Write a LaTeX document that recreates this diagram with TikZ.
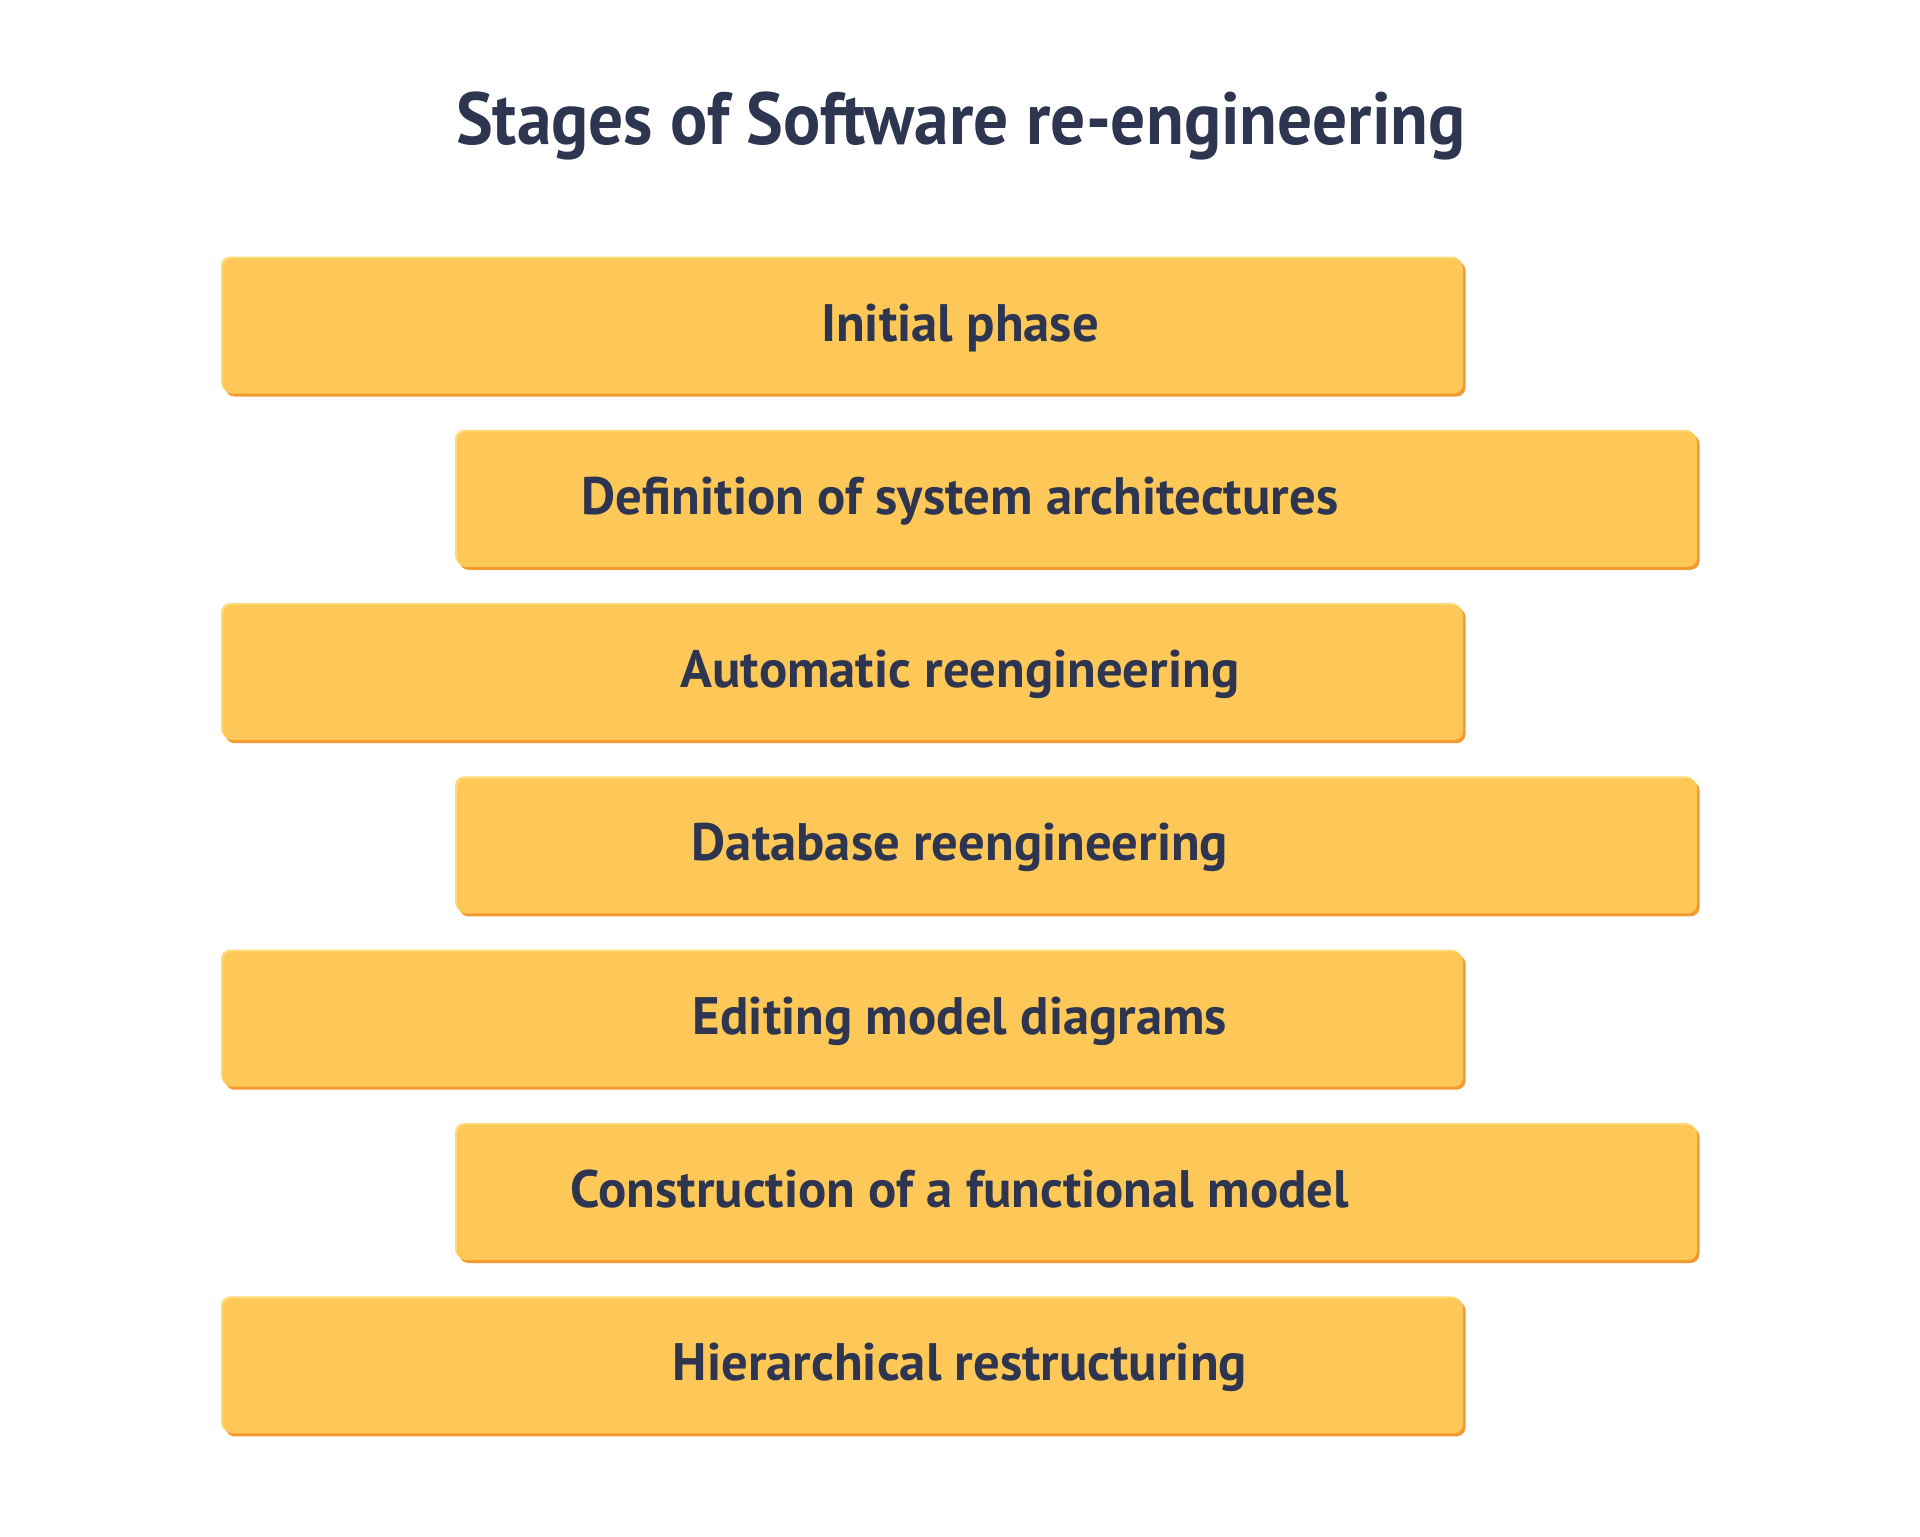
\documentclass[tikz,border=0pt]{standalone}
\usepackage{fontspec}
\setmainfont{PT Sans}
\newfontfamily\titlefont[FakeStretch=0.94]{PT Sans Bold}
\newfontfamily\labelfont{PT Sans Bold}
\definecolor{boxfill}{HTML}{FDC857}
\definecolor{boxlight}{HTML}{FFDA78}
\definecolor{boxdark}{HTML}{F29A30}
\definecolor{inkc}{HTML}{2E3550}
\begin{document}
\begin{tikzpicture}[x=0.1mm,y=-0.1mm,
  stagebox/.style={rectangle, rounded corners=0.9mm, minimum width=124.0mm, minimum height=13.5mm,
    inner sep=0pt, fill=boxfill,
    preaction={fill=boxdark, transform canvas={xshift=0.25mm, yshift=-0.3mm}},
    preaction={fill=boxlight, transform canvas={xshift=-0.2mm, yshift=0.2mm}}},
  stagetext/.style={anchor=base, text=inkc, font=\labelfont\fontsize{15}{17}\selectfont, inner sep=0pt},
  titletext/.style={anchor=base, text=inkc, font=\titlefont\fontsize{21}{24}\selectfont, inner sep=0pt}]
\useasboundingbox (0,0) rectangle (1920,1536);
\node[titletext] (title) at (961,144) {Stages of Software re-engineering};
\foreach \i/\t [evaluate=\i as \yy using {326+(\i-1)*173.3}, evaluate=\i as \xx using {ifthenelse(mod(\i,2)==1,843,1077)}] in
  {1/Initial phase, 2/Definition of system architectures, 3/Automatic reengineering, 4/Database reengineering, 5/Editing model diagrams, 6/Construction of a functional model, 7/Hierarchical restructuring}{
  \node[stagebox] (s\i) at (\xx,\yy) {};
  \node[stagetext] (l\i) at (960,\yy+15) {\t};
}
\end{tikzpicture}
\end{document}
